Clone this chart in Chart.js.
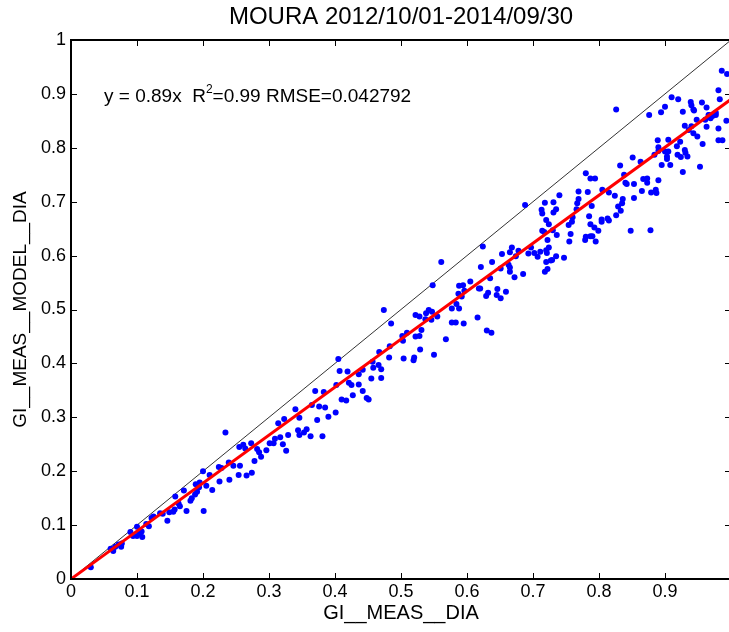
<!DOCTYPE html>
<html><head><meta charset="utf-8">
<script src="https://cdn.jsdelivr.net/npm/chart.js@4.4.0/dist/chart.umd.min.js"></script>
<style>
html,body{margin:0;padding:0;overflow:hidden;background:#fff;width:729px;height:632px}
#wrap{width:734px;height:632px}
canvas{display:block}
</style></head>
<body><div id="wrap"><canvas id="c" width="734" height="632" style="width:734px;height:632px"></canvas></div>
<script>
const chartTitle = 'MOURA 2012/10/01-2014/09/30';
const xLabel = 'GI__MEAS__DIA';
const yLabel = 'GI__MEAS__MODEL__DIA';
const xTickValues = [0, 0.1, 0.2, 0.3, 0.4, 0.5, 0.6, 0.7, 0.8, 0.9];
const xTickLabels = ['0', '0.1', '0.2', '0.3', '0.4', '0.5', '0.6', '0.7', '0.8', '0.9'];
const yTickValues = [0, 0.1, 0.2, 0.3, 0.4, 0.5, 0.6, 0.7, 0.8, 0.9, 1];
const yTickLabels = ['0', '0.1', '0.2', '0.3', '0.4', '0.5', '0.6', '0.7', '0.8', '0.9', '1'];
const xRange = [0, 1];
const yRange = [0, 1];
const fitSlope = 0.89;
const identityLine = [[0, 0], [1, 1]];
const fitLine = [[0, 0], [1, fitSlope]];
const statsPosition = [0.05, 0.894];
const statsPart1 = 'y = 0.89x  R';
const statsSup = '2';
const statsPart2 = '=0.99 RMSE=0.042792';

const xMeas = [
 .030,.060,.064,.067,.072,.077,.076,.090,.094,.100,.100,.104,.108,.107,
 .234,.200,.210,.224,.228,.239,.246,.256,.255,.261,.264,.273,.282,.285,.278,.288,.296,.301,.307,.309,
 .314,.323,.317,.321,.326,.329,.340,.344,.254,.266,.274,.240,.225,.214,.205,.195,.189,.194,.191,.188,
 .183,.181,.171,.175,.201,.158,.163,.165,.157,.155,.149,.146,.139,.135,.125,.122,.118,.114,
 .474,.485,.405,.407,.419,.421,.425,.436,.442,.436,.442,.427,.410,.417,.448,.451,.455,.458,.457,.466,
 .470,.470,.467,.482,.483,.502,.503,.509,.504,.519,.520,.522,.528,.531,.529,.522,.528,.537,.538,.542,
 .547,.546,.555,.550,.568,.577,.583,.595,.577,.584,.588,.587,.592,.616,.370,.383,.376,.385,.365,.402,
 .401,.390,.373,.346,.346,.353,.357,.363,.381,
 .561,.548,.605,.594,.588,.596,.618,.624,.621,.638,.653,.665,.668,.678,.674,.663,.665,.665,.651,.672,
 .635,.620,.632,.629,.646,.645,.651,.659,.630,.637,
 .688,.780,.787,.794,.832,.740,.718,.731,.735,.731,.713,.714,.769,.783,.769,.767,.766,.789,.805,.815,
 .824,.836,.835,.829,.833,.826,.840,.842,.853,.853,.865,.867,.873,.873,.720,.724,.714,.717,.730,.736,
 .722,.724,.720,.721,.697,.693,.702,.707,.711,.727,.729,.720,.735,.747,.722,.718,.685,.754,.759,.760,
 .757,.755,.779,.780,.787,.790,.795,.787,.793,.799,.804,.804,.813,.815,.848,.785,
 .826,.986,.994,.981,.983,.977,.993,.981,.981,.987,.876,.894,.900,.910,.920,.927,.939,.940,.943,.944,
 .956,.963,.966,.969,.961,.963,.967,.972,.977,.948,.930,.936,.943,.949,.940,.957,.923,.905,.889,.890,
 .900,.905,.903,.903,.918,.919,.924,.930,.931,.934,.895,.908,.927,.953,.851,.863,.884,.890,.890,.879,
 .886,.887,.878,.838
];
const yModel = [
 .022,.056,.052,.060,.064,.066,.060,.087,.080,.080,.097,.085,.078,.088,
 .272,.200,.193,.208,.206,.216,.210,.210,.245,.249,.242,.252,.241,.235,.219,.227,.239,.252,.252,.260,
 .289,.297,.263,.250,.238,.267,.315,.276,.193,.192,.197,.184,.181,.165,.173,.179,.176,.170,.162,.157,
 .150,.145,.164,.126,.126,.153,.140,.135,.129,.125,.124,.108,.121,.122,.116,.113,.098,.102,
 .499,.474,.408,.386,.385,.364,.360,.380,.388,.361,.349,.341,.333,.331,.336,.333,.372,.392,.403,.397,
 .389,.373,.421,.411,.432,.451,.442,.457,.409,.406,.411,.450,.451,.462,.426,.490,.487,.482,.493,.499,
 .496,.481,.487,.416,.445,.476,.476,.474,.502,.510,.502,.529,.524,.485,.349,.347,.320,.318,.323,.360,
 .309,.301,.295,.299,.267,.272,.278,.265,.265,
 .588,.545,.552,.545,.544,.535,.539,.617,.579,.588,.603,.606,.615,.609,.599,.583,.578,.570,.576,.560,
 .558,.539,.531,.525,.538,.527,.521,.533,.461,.457,
 .694,.753,.743,.743,.767,.712,.698,.699,.686,.680,.685,.678,.719,.718,.705,.697,.686,.692,.722,.717,
 .711,.705,.697,.691,.683,.675,.735,.733,.733,.707,.720,.742,.743,.735,.666,.658,.646,.644,.647,.638,
 .629,.615,.610,.605,.615,.604,.605,.598,.607,.591,.592,.588,.599,.596,.575,.570,.566,.657,.663,.671,
 .640,.626,.629,.635,.636,.636,.626,.658,.652,.646,.667,.663,.669,.665,.646,.673,
 .871,.943,.937,.907,.890,.861,.850,.836,.814,.814,.861,.866,.876,.894,.890,.867,.885,.879,.871,.869,
 .884,.875,.861,.855,.852,.839,.861,.859,.865,.852,.841,.833,.827,.821,.840,.807,.811,.815,.814,.801,
 .793,.793,.784,.779,.803,.787,.783,.796,.791,.784,.768,.768,.755,.765,.782,.774,.787,.794,.740,.717,
 .722,.716,.647,.750
];

const FONT = "'Liberation Sans', Arial, Helvetica, sans-serif";
const points = xMeas.map((x, i) => ({x: x, y: yModel[i]}));
const toXY = arr => arr.map(p => ({x: p[0], y: p[1]}));

const framePlugin = {
  id: 'framePlugin',
  afterDatasetsDraw(chart) {
    const ctx = chart.ctx;
    const xs = chart.scales.x, ys = chart.scales.y;
    const tx = xs.getPixelForValue(statsPosition[0]);
    const ty = ys.getPixelForValue(statsPosition[1]);
    ctx.save();
    ctx.fillStyle = '#000';
    ctx.textBaseline = 'middle';
    ctx.textAlign = 'left';
    ctx.font = '19px ' + FONT;
    ctx.fillText(statsPart1, tx, ty);
    let w = ctx.measureText(statsPart1).width;
    ctx.font = '12px ' + FONT;
    ctx.fillText(statsSup, tx + w, ty - 7);
    w += ctx.measureText(statsSup).width;
    ctx.font = '19px ' + FONT;
    ctx.fillText(statsPart2, tx + w, ty);
    ctx.restore();
  },
  afterDraw(chart) {
    const ctx = chart.ctx;
    const a = chart.chartArea;
    const xs = chart.scales.x, ys = chart.scales.y;
    ctx.save();
    ctx.strokeStyle = '#000';
    ctx.lineWidth = 1;
    const tl = 6;
    ctx.beginPath();
    xTickValues.forEach(v => {
      const p = Math.round(xs.getPixelForValue(v)) + 0.5;
      ctx.moveTo(p, a.bottom); ctx.lineTo(p, a.bottom - tl);
      ctx.moveTo(p, a.top); ctx.lineTo(p, a.top + tl);
    });
    yTickValues.forEach(v => {
      const p = Math.round(ys.getPixelForValue(v)) + 0.5;
      ctx.moveTo(a.left, p); ctx.lineTo(a.left + tl, p);
      ctx.moveTo(a.right, p); ctx.lineTo(a.right - tl, p);
    });
    ctx.stroke();
    ctx.lineWidth = 2;
    ctx.beginPath();
    ctx.rect(a.left, a.top, a.right - a.left, a.bottom - a.top);
    ctx.stroke();
    ctx.restore();
  }
};

new Chart(document.getElementById('c'), {
  type: 'scatter',
  data: {
    datasets: [
      {label: 'fit', data: toXY(fitLine), showLine: true, borderColor: '#ff0000', borderWidth: 3,
       pointRadius: 0, fill: false, order: 0},
      {label: 'data', data: points, backgroundColor: '#0000ff', borderWidth: 0, pointRadius: 3,
       pointHoverRadius: 3, order: 1},
      {label: 'identity', data: toXY(identityLine), showLine: true, borderColor: '#333333', borderWidth: 1,
       pointRadius: 0, fill: false, order: 2}
    ]
  },
  options: {
    responsive: false,
    animation: false,
    devicePixelRatio: 1,
    layout: {padding: {left: 0, right: 2, top: 0, bottom: 0}},
    plugins: {
      legend: {display: false},
      tooltip: {enabled: false},
      title: {display: true, text: chartTitle, fullSize: false, color: '#000',
              font: {family: FONT, size: 24, weight: 'normal', lineHeight: 1.2},
              padding: {top: 3, bottom: 8.2}}
    },
    scales: {
      x: {
        type: 'linear', position: 'bottom', min: xRange[0], max: xRange[1],
        afterBuildTicks: s => { s.ticks = xTickValues.map(v => ({value: v})); },
        afterFit: s => { s.height = 53; },
        grid: {display: false, drawTicks: false},
        border: {display: false},
        ticks: {color: '#000', padding: 2, maxRotation: 0, autoSkip: false,
                font: {family: FONT, size: 18},
                callback: (v, i) => xTickLabels[i]},
        title: {display: true, text: xLabel, color: '#000',
                font: {family: FONT, size: 20, lineHeight: 1.2}, padding: {top: 0, bottom: 7}}
      },
      y: {
        type: 'linear', position: 'left', min: yRange[0], max: yRange[1],
        afterBuildTicks: s => { s.ticks = yTickValues.map(v => ({value: v})); },
        afterFit: s => { s.width = 71; },
        grid: {display: false, drawTicks: false},
        border: {display: false},
        ticks: {color: '#000', padding: 5, autoSkip: false,
                font: {family: FONT, size: 18},
                callback: (v, i) => yTickLabels[i]},
        title: {display: true, text: yLabel, color: '#000',
                font: {family: FONT, size: 19, lineHeight: 1.2}, padding: {top: 9, bottom: 0}}
      }
    }
  },
  plugins: [framePlugin]
});
</script>
</body></html>
